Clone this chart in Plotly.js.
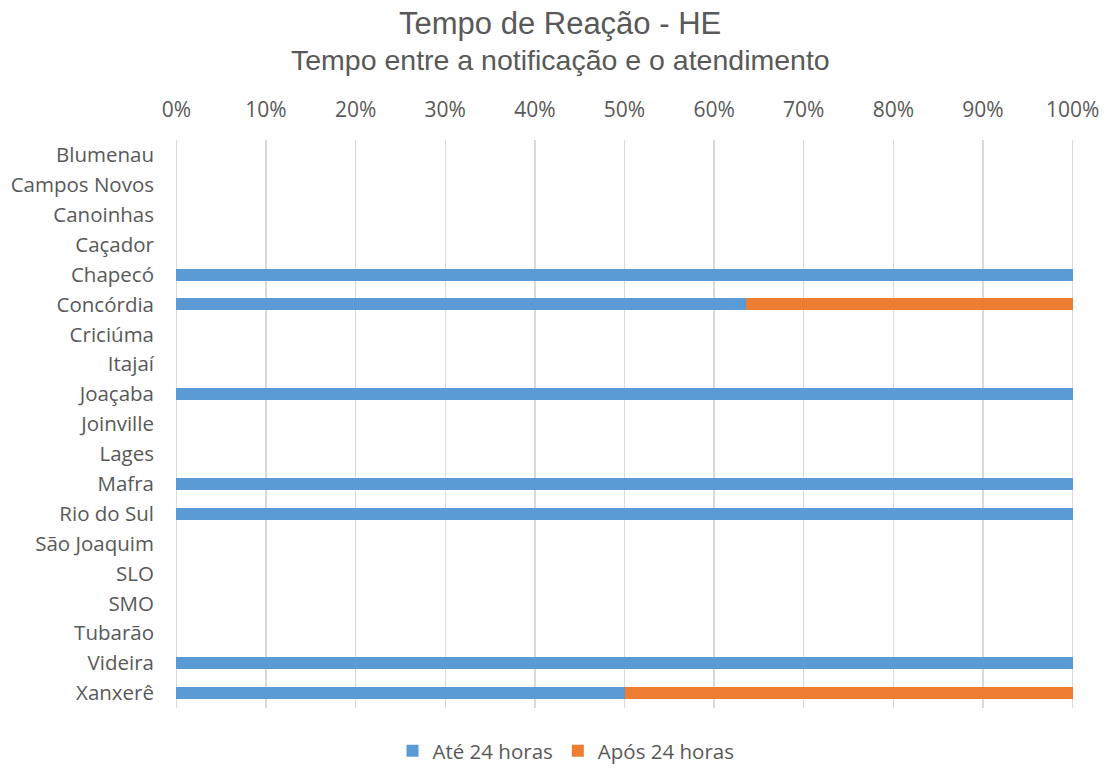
<!DOCTYPE html>
<html>
<head>
<meta charset="utf-8">
<script src="https://cdn.plot.ly/plotly-3.0.1.min.js"></script>
<style>html,body{margin:0;padding:0;background:#fff;}#chart{width:1106px;height:771px;}</style>
</head>
<body>
<div id="chart"></div>
<script>
const categories = ["Blumenau","Campos Novos","Canoinhas","Caçador","Chapecó","Concórdia","Criciúma","Itajaí","Joaçaba","Joinville","Lages","Mafra","Rio do Sul","São Joaquim","SLO","SMO","Tubarão","Videira","Xanxerê"];
const ate24 = [null,null,null,null,100,63.6,null,null,100,null,null,100,100,null,null,null,null,100,50];
const apos24 = [null,null,null,null,null,36.4,null,null,null,null,null,null,null,null,null,null,null,null,50];
const tickVals = [0,10,20,30,40,50,60,70,80,90,100];
const tickText = tickVals.map(v => v + "%");

const font = "Open Sans, Noto Sans, sans-serif";
const data = [
  {type:"bar", orientation:"h", name:"Até 24 horas", y:categories, x:ate24, marker:{color:"#5B9BD5"}},
  {type:"bar", orientation:"h", name:"Após 24 horas", y:categories, x:apos24, marker:{color:"#ED7D31"}}
];
const L = 175, R = 32, T = 140, B = 63;
const plotW = 1106 - L - R;
const layout = {
  width:1106, height:771,
  barmode:"stack", bargap:0.6,
  margin:{l:L, r:R, t:T, b:B},
  paper_bgcolor:"#fff", plot_bgcolor:"#fff",
  font:{family:font, color:"#595959", size:20},
  xaxis:{side:"top", range:[-0.15,100.15], tickvals:tickVals, ticktext:tickText, showgrid:true, gridcolor:"#D9D9D9", gridwidth:1.3, zeroline:false, showline:false, ticks:"", ticklabelstandoff:18, tickfont:{size:21, color:"#595959"}, fixedrange:true, automargin:false},
  yaxis:{type:"category", categoryorder:"array", categoryarray:categories, autorange:"reversed", showgrid:false, zeroline:false, showline:false, ticks:"", ticklabelstandoff:20, tickfont:{size:20.5, color:"#595959"}, fixedrange:true, automargin:false},
  showlegend:true,
  legend:{orientation:"h", xref:"container", yref:"container", x:566/1106, xanchor:"center", y:0, yanchor:"bottom", font:{size:20.5, color:"#595959"}, traceorder:"normal"},
  annotations:[
    {text:"Tempo de Reação - HE", xref:"paper", yref:"paper", x:(560-L)/plotW, y:1.0, xanchor:"center", yanchor:"middle", showarrow:false, font:{family:"Liberation Sans, Arial, sans-serif", size:31, color:"#595959"}, yshift:T-23},
    {text:"Tempo entre a notificação e o atendimento", xref:"paper", yref:"paper", x:(560-L)/plotW, y:1.0, xanchor:"center", yanchor:"middle", showarrow:false, font:{family:"Liberation Sans, Arial, sans-serif", size:28.5, color:"#595959"}, yshift:T-60}
  ]
};
Plotly.newPlot("chart", data, layout, {displayModeBar:false, staticPlot:true});
</script>
</body>
</html>
